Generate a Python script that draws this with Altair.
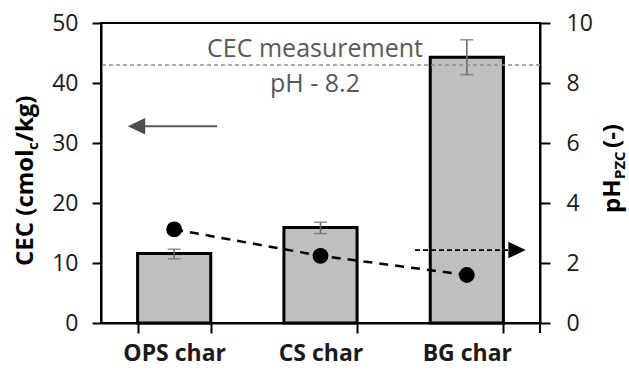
import altair as alt
import pandas as pd

categories = ["OPS char", "CS char", "BG char"]
cec = [11.6, 15.9, 44.3]
cec_lo = [10.7, 14.9, 41.4]
cec_hi = [12.3, 16.8, 47.2]
ph_pzc = [3.12, 2.24, 1.6]
cec_measure_line = 43.0
cec_ticks = [0, 10, 20, 30, 40, 50]
ph_ticks = [0, 2, 4, 6, 8, 10]

df = pd.DataFrame({"cat": categories, "cec": cec, "lo": cec_lo, "hi": cec_hi, "ph": ph_pzc})

FONT = "Open Sans"
W, H = 439, 300

x = alt.X("cat:N", sort=categories,
          scale=alt.Scale(paddingInner=0.5, paddingOuter=0.25),
          axis=alt.Axis(title=None, labelAngle=0, labelFontWeight="bold", labelFontSize=23,
                        tickBand="extent", tickSize=10, labelPadding=9,
                        domainColor="black", domainWidth=2, tickColor="black", tickWidth=2))

base = alt.Chart(df)

yL = alt.Y("cec:Q", scale=alt.Scale(domain=[0, 50]),
           axis=alt.Axis(title=None, values=cec_ticks, orient="left", tickSize=9, labelPadding=14,
                         domainColor="black", domainWidth=2, tickColor="black", tickWidth=2))

bars = base.mark_bar(fill="#bfbfbf", stroke="black", strokeWidth=3).encode(x=x, y=yL)
err = base.mark_rule(color="#6b6b6b", strokeWidth=1.6).encode(x=x, y="lo:Q", y2="hi:Q")
cap_lo = base.mark_tick(color="#6b6b6b", size=13, thickness=1.6).encode(x=x, y="lo:Q")
cap_hi = base.mark_tick(color="#6b6b6b", size=13, thickness=1.6).encode(x=x, y="hi:Q")

ref = alt.Chart(pd.DataFrame({"v": [cec_measure_line]})).mark_rule(
    color="#8c8c8c", strokeDash=[4, 3], strokeWidth=1.4).encode(y="v:Q")

ann = pd.DataFrame({"t": ["CEC measurement", "pH - 8.2"], "v": [44.3, 38.5]})
ann_text = alt.Chart(ann).mark_text(font=FONT, fontSize=25, color="#595959", align="center",
                                    baseline="alphabetic").encode(
    text="t:N", y="v:Q", x=alt.value(214))

# left arrow (points to CEC axis)
larrow_line = alt.Chart(pd.DataFrame({"v": [32.8]})).mark_rule(color="#595959", strokeWidth=2).encode(
    y="v:Q", x=alt.value(36), x2=alt.value(116))
larrow_head = alt.Chart(pd.DataFrame({"v": [32.8]})).mark_point(
    shape="M-1,0L1,-0.95L1,0.95Z", filled=True, color="#4d4d4d", opacity=1, size=300).encode(
    y="v:Q", x=alt.value(35.5))

left = alt.layer(bars, err, cap_lo, cap_hi, ref, ann_text, larrow_line, larrow_head)

yR = alt.Y("ph:Q", scale=alt.Scale(domain=[0, 10]),
           axis=alt.Axis(title=None, values=ph_ticks, orient="right", tickSize=10, labelPadding=16,
                         domainColor="black", domainWidth=2, tickColor="black", tickWidth=2))
line = base.mark_line(color="black", strokeDash=[9, 7], strokeWidth=2.5).encode(x=x, y=yR)
pts = base.mark_circle(color="black", size=250, opacity=1).encode(x=x, y=alt.Y("ph:Q"))

rarrow_line = alt.Chart(pd.DataFrame({"v": [2.43]})).mark_rule(
    color="black", strokeWidth=1.6, strokeDash=[5, 3]).encode(y="v:Q", x=alt.value(314), x2=alt.value(410))
rarrow_head = alt.Chart(pd.DataFrame({"v": [2.43]})).mark_point(
    shape="M1,0L-1,-0.95L-1,0.95Z", filled=True, color="black", opacity=1, size=300).encode(
    y="v:Q", x=alt.value(416))

right = alt.layer(line, pts, rarrow_line, rarrow_head)

# axis titles with subscripts
def title_piece(text, xv, yv, size, align):
    return alt.Chart(pd.DataFrame({"t": [text]})).mark_text(
        font=FONT, fontSize=size, fontWeight="bold", color="black", angle=270,
        align=align, baseline="alphabetic").encode(text="t:N", x=alt.value(xv), y=alt.value(yv))

tL1 = title_piece("CEC (cmol", -68, 266 - 23, 24, "left")
tL2 = title_piece("c", -63, 150 - 23, 15, "left")
tL3 = title_piece("/kg)", -68, 142 - 23, 24, "left")
tR1 = title_piece("pH", 620 - 101, 213 - 23, 24, "left")
tR2 = title_piece("PZC", 625 - 101, 179 - 23, 15, "left")
tR3 = title_piece("(-)", 620 - 101, 148 - 23, 24, "left")

end_tick = alt.Chart(pd.DataFrame({"a": [0]})).mark_rule(color="black", strokeWidth=2).encode(
    x=alt.value(W), y=alt.value(H), y2=alt.value(H + 10))

chart = alt.layer(left, right, tL1, tL2, tL3, tR1, tR2, tR3, end_tick).resolve_scale(
    y="independent").properties(
    width=W, height=H,
    autosize=alt.AutoSizeParams(type="none"),
    padding={"left": 101, "top": 23, "right": 89, "bottom": 47},
).configure_view(stroke="black", strokeWidth=2).configure_axis(
    labelFont=FONT, labelFontSize=23, labelColor="#1a1a1a", grid=False)

chart.save("out.html", embed_options={"renderer": "svg", "actions": False})
